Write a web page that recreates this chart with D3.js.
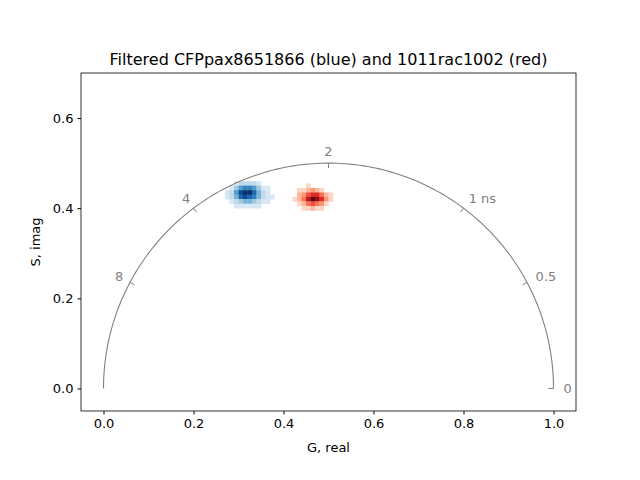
<!DOCTYPE html>
<html><head><meta charset="utf-8">
<script src="https://cdn.jsdelivr.net/npm/d3@7"></script>
<style>body{margin:0;background:#fff}text{font-family:"DejaVu Sans",sans-serif}</style>
</head><body><svg id="c" width="640" height="480"></svg>
<script>
// 2D histogram bins (bin width 0.01), rows listed from top (high s) to bottom
const binSize = 0.01;
const blueG0 = 0.27, blueSTop = 0.45;
const blueCounts = [
  [0,0,1,2,2,2,2,1,0,0,0],
  [0,1,3,5,6,6,5,3,1,1,0],
  [1,2,5,8,9,9,7,4,2,1,0],
  [1,2,4,7,8,7,6,4,2,1,1],
  [0,1,2,3,4,4,3,2,1,1,0],
  [0,0,1,1,1,1,1,1,0,0,0]
];
const redG0 = 0.42, redSTop = 0.445;
const redCounts = [
  [0,0,0,1,0,0,0,0,0],
  [0,1,1,2,3,2,1,0,0],
  [0,2,3,5,6,6,4,2,1],
  [1,2,4,7,9,8,6,3,1],
  [0,1,2,4,5,4,3,1,0],
  [0,0,1,1,2,1,1,0,0]
];
const lifetimes = [0, 0.5, 1, 2, 4, 8];
const lifetimeLabels = ["0", "0.5", "1 ns", "2", "4", "8"];
const omega = 0.5; // rad/ns (80 MHz)
const xTicks = [0, 0.2, 0.4, 0.6, 0.8, 1.0];
const yTicks = [0, 0.2, 0.4, 0.6];

const svg = d3.select("#c");
const m = {l: 81, r: 576, t: 73, b: 411};
const x = d3.scaleLinear().domain([-0.05, 1.05]).range([m.l, m.r]);
const y = d3.scaleLinear().domain([-0.05, 0.7]).range([m.b, m.t]);
const grey = "#808080";

function drawHist(counts, g0, sTop, interp) {
  const max = d3.max(counts.flat());
  counts.forEach((row, i) => row.forEach((v, j) => {
    if (!v) return;
    const g = g0 + j * binSize, s = sTop - i * binSize;
    svg.append("rect")
      .attr("x", x(g)).attr("y", y(s + binSize))
      .attr("width", x(g + binSize) - x(g) + 0.3)
      .attr("height", y(s) - y(s + binSize) + 0.3)
      .attr("fill", interp(0.05 + 0.95 * v / max));
  }));
}
drawHist(blueCounts, blueG0, blueSTop, d3.interpolateBlues);
drawHist(redCounts, redG0, redSTop, d3.interpolateReds);

// universal semicircle
const arcPts = d3.range(0, 181).map(a => {
  const t = a * Math.PI / 180;
  return [0.5 + 0.5 * Math.cos(t), 0.5 * Math.sin(t)];
});
svg.append("path")
  .attr("d", d3.line().x(d => x(d[0])).y(d => y(d[1]))(arcPts))
  .attr("fill", "none").attr("stroke", grey).attr("stroke-width", 1.1);

lifetimes.forEach((tau, i) => {
  const wt = omega * tau;
  const g = 1 / (1 + wt * wt), s = wt / (1 + wt * wt);
  const px = x(g), py = y(s);
  const dx = px - x(0.5), dy = py - y(0);
  const len = Math.hypot(dx, dy);
  const ux = dx / len, uy = dy / len;
  svg.append("line")
    .attr("x1", px).attr("y1", py)
    .attr("x2", px - ux * 5).attr("y2", py - uy * 5)
    .attr("stroke", grey);
  svg.append("text")
    .attr("x", px + ux * 12).attr("y", py + uy * 12)
    .attr("text-anchor", Math.abs(ux) < 0.3 ? "middle" : (ux > 0 ? "start" : "end"))
    .attr("dy", "0.35em")
    .attr("dx", Math.abs(ux) < 0.3 ? 0 : (ux > 0 ? -2 : 4))
    .attr("font-size", 13).attr("fill", grey)
    .text(lifetimeLabels[i]);
});

// frame and axes
svg.append("rect").attr("x", m.l).attr("y", m.t)
  .attr("width", m.r - m.l).attr("height", m.b - m.t)
  .attr("fill", "none").attr("stroke", "#000").attr("stroke-width", 0.8);

const xa = svg.append("g").attr("transform", `translate(0,${m.b})`)
  .call(d3.axisBottom(x).tickValues(xTicks).tickFormat(d3.format(".1f")).tickSize(3.5).tickPadding(4));
const ya = svg.append("g").attr("transform", `translate(${m.l},0)`)
  .call(d3.axisLeft(y).tickValues(yTicks).tickFormat(d3.format(".1f")).tickSize(3.5).tickPadding(4));
[xa, ya].forEach(a => {
  a.select(".domain").remove();
  a.selectAll("text").attr("font-size", 13).attr("font-family", "DejaVu Sans");
});

svg.append("text").attr("x", (m.l + m.r) / 2).attr("y", 452)
  .attr("text-anchor", "middle").attr("font-size", 13).text("G, real");
svg.append("text").attr("transform", `translate(40,${(m.t + m.b) / 2}) rotate(-90)`)
  .attr("text-anchor", "middle").attr("font-size", 13).text("S, imag");
svg.append("text").attr("x", (m.l + m.r) / 2).attr("y", 65)
  .attr("text-anchor", "middle").attr("font-size", 16)
  .text("Filtered CFPpax8651866 (blue) and 1011rac1002 (red)");
</script></body></html>
